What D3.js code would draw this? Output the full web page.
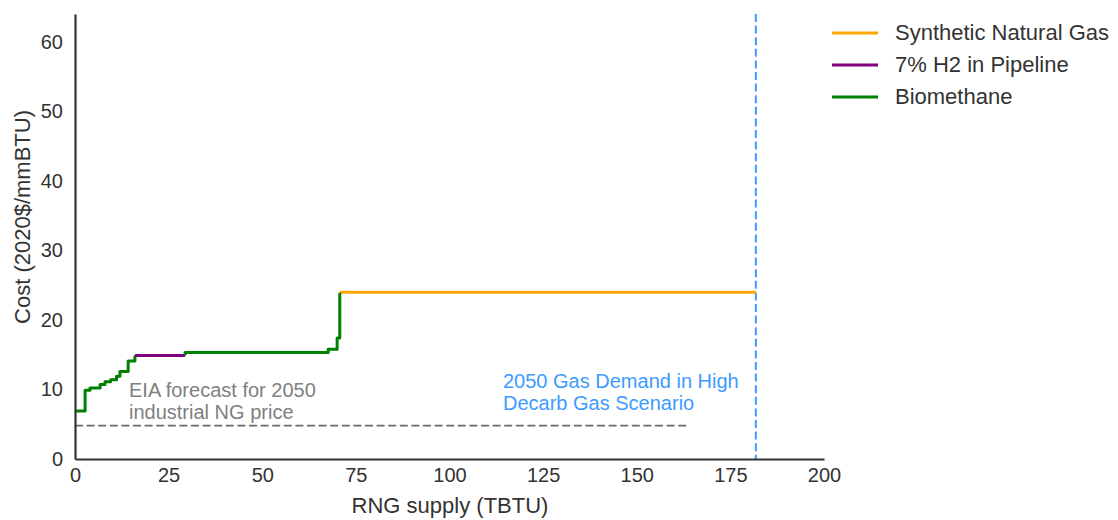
<!DOCTYPE html>
<html><head><meta charset="utf-8">
<script src="https://cdn.jsdelivr.net/npm/d3@7"></script>
<style>body{margin:0;background:#fff;font-family:"Liberation Sans",Arial,sans-serif;}</style>
</head><body>
<svg id="c" width="1118" height="520"></svg>
<script>
// Data
const bio1Supply = [0, 2.7, 4.0, 6.7, 8.0, 9.5, 11.1, 12.0, 14.2, 16.0];
const bio1Cost   = [6.9, 9.9, 10.2, 10.7, 11.1, 11.4, 11.9, 12.6, 14.1, 14.9];
const h2Supply = [16.0, 29.4];
const h2Cost   = [14.9, 14.9];
const bio2Supply = [29.4, 29.4, 67.6, 70.0, 70.7];
const bio2Cost   = [14.9, 15.3, 15.8, 17.4, 23.9];
const sngSupply = [70.7, 181.8];
const sngCost   = [24.0, 24.0];
const eiaPrice = 4.8, eiaEnd = 163.5;
const demand2050 = 181.8;
const xTicks = [0, 25, 50, 75, 100, 125, 150, 175, 200];
const yTicks = [0, 10, 20, 30, 40, 50, 60];
const legendNames = ["Synthetic Natural Gas", "7% H2 in Pipeline", "Biomethane"];
const legendColors = ["#FFA500", "#800080", "#008000"];

const svg = d3.select("#c");
const x = d3.scaleLinear().domain([0, 200]).range([75, 824]);
const y = d3.scaleLinear().domain([0, 64]).range([459, 14]);
const font = "'Liberation Sans', Arial, sans-serif";

// EIA dashed line
svg.append("line").attr("x1", x(0)).attr("x2", x(eiaEnd)).attr("y1", y(eiaPrice)).attr("y2", y(eiaPrice))
  .attr("stroke", "#6b6b6b").attr("stroke-width", 1.6).attr("stroke-dasharray", "8,3.6");
// demand line
svg.append("line").attr("x1", x(demand2050)).attr("x2", x(demand2050)).attr("y1", y(64)).attr("y2", y(0))
  .attr("stroke", "#3d9bff").attr("stroke-width", 2).attr("stroke-dasharray", "8,3.6");

const line = d3.line().x(d => x(d[0])).y(d => y(d[1])).curve(d3.curveStepAfter);
function series(sx, sy, col) {
  svg.append("path").datum(sx.map((v, i) => [v, sy[i]])).attr("d", line)
    .attr("fill", "none").attr("stroke", col).attr("stroke-width", 3).attr("stroke-linejoin", "round");
}
series(sngSupply, sngCost, legendColors[0]);
series(bio1Supply, bio1Cost, legendColors[2]);
series(h2Supply, h2Cost, legendColors[1]);
series(bio2Supply, bio2Cost, legendColors[2]);

// axes
const xa = svg.append("g").attr("transform", `translate(0,${y(0)})`)
  .call(d3.axisBottom(x).tickValues(xTicks).tickSize(0).tickPadding(9).tickSizeOuter(0));
const ya = svg.append("g").attr("transform", `translate(${x(0)},0)`)
  .call(d3.axisLeft(y).tickValues(yTicks).tickSize(0).tickPadding(12).tickSizeOuter(0));
[xa, ya].forEach(g => {
  g.select(".domain").attr("stroke", "#333").attr("stroke-width", 2.2);
  g.selectAll("text").attr("font-family", font).attr("font-size", 20).attr("fill", "#333");
});

svg.append("text").attr("x", 450).attr("y", 513).attr("text-anchor", "middle")
  .attr("font-family", font).attr("font-size", 22).attr("fill", "#333").text("RNG supply (TBTU)");
svg.append("text").attr("transform", `translate(30,217) rotate(-90)`).attr("text-anchor", "middle")
  .attr("font-family", font).attr("font-size", 22).attr("fill", "#333").text("Cost (2020$/mmBTU)");

// annotations
const eia = svg.append("text").attr("font-family", font).attr("font-size", 20).attr("fill", "#808080");
eia.append("tspan").attr("x", 129).attr("y", 397).text("EIA forecast for 2050");
eia.append("tspan").attr("x", 129).attr("y", 419).text("industrial NG price");
const dm = svg.append("text").attr("font-family", font).attr("font-size", 20).attr("fill", "#3d9bff");
dm.append("tspan").attr("x", 503).attr("y", 388).text("2050 Gas Demand in High");
dm.append("tspan").attr("x", 503).attr("y", 410).text("Decarb Gas Scenario");

// legend
legendNames.forEach((n, i) => {
  const yy = 33 + i * 32;
  svg.append("line").attr("x1", 832).attr("x2", 878).attr("y1", yy).attr("y2", yy)
    .attr("stroke", legendColors[i]).attr("stroke-width", 3);
  svg.append("text").attr("x", 895).attr("y", yy + 7).attr("font-family", font).attr("font-size", 22)
    .attr("fill", "#333").text(n);
});
</script>
</body></html>
